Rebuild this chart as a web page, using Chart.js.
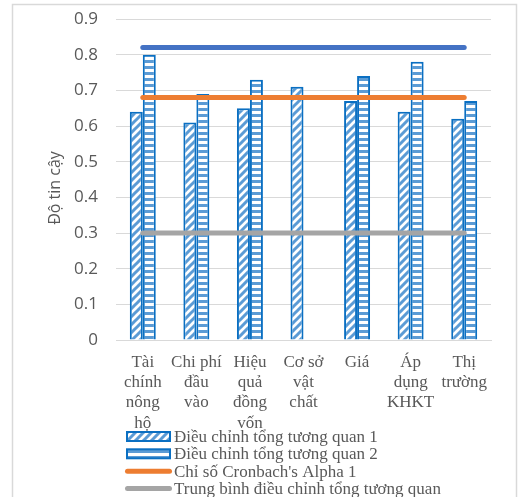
<!DOCTYPE html>
<html>
<head>
<meta charset="utf-8">
<script src="https://cdn.jsdelivr.net/npm/chart.js@4/dist/chart.umd.min.js"></script>
<style>
  html, body { margin: 0; padding: 0; background: #ffffff; overflow: hidden; }
  #wrap { width: 518px; height: 497px; }
</style>
</head>
<body>
<div id="wrap"><canvas id="chart" width="518" height="497"></canvas></div>
<script>
// Categories (multi-line labels)
const categories = [
  ["Tài", "chính", "nông", "hộ"],
  ["Chi phí", "đầu", "vào"],
  ["Hiệu", "quả", "đồng", "vốn"],
  ["Cơ sở", "vật", "chất"],
  ["Giá"],
  ["Áp", "dụng", "KHKT"],
  ["Thị", "trường"]
];

// Series values
const correlation1 = [0.64, 0.61, 0.65, 0.71, 0.67, 0.64, 0.62];
const correlation2 = [0.80, 0.69, 0.73, null, 0.74, 0.78, 0.67];
const alpha2       = [0.82, 0.82, 0.82, 0.82, 0.82, 0.82, 0.82];
const alpha1       = [0.68, 0.68, 0.68, 0.68, 0.68, 0.68, 0.68];
const meanCorr     = [0.30, 0.30, 0.30, 0.30, 0.30, 0.30, 0.30];

// Axis ticks
const yTicks = [0, 0.1, 0.2, 0.3, 0.4, 0.5, 0.6, 0.7, 0.8, 0.9];
const yTitle = 'Độ tin cậy';

const seriesNames = [
  "Điều chỉnh tổng tương quan 1",
  "Điều chỉnh tổng tương quan 2",
  "Chỉ số Cronbach's Alpha 1",
  "Trung bình điều chỉnh tổng tương quan",
  "Chỉ số Cronbach's Alpha 2"
];

const BAR_EDGE = '#0a6fc2';
const STRIPE = '#5b9bd5';

// Wide upward diagonal hatch
function diagonalPattern() {
  const c = document.createElement('canvas');
  c.width = 8; c.height = 8;
  const g = c.getContext('2d');
  g.fillStyle = '#ffffff';
  g.fillRect(0, 0, 8, 8);
  g.strokeStyle = STRIPE;
  g.lineWidth = 3;
  g.beginPath();
  g.moveTo(-2, 10); g.lineTo(10, -2);
  g.moveTo(-6, 6); g.lineTo(6, -6);
  g.moveTo(2, 14); g.lineTo(14, 2);
  g.stroke();
  return g.createPattern(c, 'repeat');
}

// Horizontal stripe hatch
function horizontalPattern() {
  const c = document.createElement('canvas');
  c.width = 6; c.height = 6;
  const g = c.getContext('2d');
  g.fillStyle = '#ffffff';
  g.fillRect(0, 0, 6, 6);
  g.fillStyle = STRIPE;
  g.fillRect(0, 0, 6, 3);
  return g.createPattern(c, 'repeat');
}

const patDiag = diagonalPattern();
const patHoriz = horizontalPattern();

// Page frame, axis title and legend drawn on the canvas
const framePlugin = {
  id: 'frame',
  beforeDraw(chart) {
    const ctx = chart.ctx;
    ctx.save();
    ctx.fillStyle = '#ffffff';
    ctx.fillRect(0, 0, chart.width, chart.height);
    ctx.strokeStyle = '#d9d9d9';
    ctx.lineWidth = 1.5;
    ctx.strokeRect(12.5, 4.5, 504, 500);
    ctx.restore();
  },
  afterDraw(chart) {
    const ctx = chart.ctx;
    ctx.save();
    // vertical axis title
    ctx.translate(55, 188);
    ctx.rotate(-Math.PI / 2);
    ctx.font = '16px "Open Sans", sans-serif';
    ctx.fillStyle = '#595959';
    ctx.textAlign = 'center';
    ctx.textBaseline = 'middle';
    ctx.fillText(yTitle, 0, 0);
    ctx.restore();

    ctx.save();
    ctx.font = '17px "Liberation Serif", "Times New Roman", serif';
    ctx.textBaseline = 'middle';
    ctx.textAlign = 'left';
    const rows = [436.5, 453.8, 471.3, 488.6];
    const boxX = 127, boxW = 43, boxH = 9, textX = 174;
    // hatched entries
    [[patDiag, 0], [patHoriz, 1]].forEach(([pat, i]) => {
      const y = rows[i] - boxH / 2;
      ctx.fillStyle = pat;
      ctx.fillRect(boxX, y, boxW, boxH);
      ctx.strokeStyle = BAR_EDGE;
      ctx.lineWidth = 2;
      ctx.strokeRect(boxX, y, boxW, boxH);
    });
    // line entries
    [['#ed7d31', 2], ['#a5a5a5', 3]].forEach(([col, i]) => {
      ctx.strokeStyle = col;
      ctx.lineWidth = 5;
      ctx.lineCap = 'round';
      ctx.beginPath();
      ctx.moveTo(127.5, rows[i]);
      ctx.lineTo(169.5, rows[i]);
      ctx.stroke();
    });
    ctx.fillStyle = '#595959';
    for (let i = 0; i < 4; i++) {
      ctx.fillText(seriesNames[i], textX, rows[i] + 1);
    }
    ctx.restore();
  }
};

new Chart(document.getElementById('chart'), {
  type: 'bar',
  data: {
    labels: categories,
    datasets: [
      {
        label: seriesNames[0], data: correlation1,
        backgroundColor: patDiag, borderColor: BAR_EDGE, borderWidth: 2,
        order: 2
      },
      {
        label: seriesNames[1], data: correlation2,
        backgroundColor: patHoriz, borderColor: BAR_EDGE, borderWidth: 2,
        order: 2
      },
      {
        type: 'line', label: seriesNames[4], data: alpha2,
        borderColor: '#4472c4', borderWidth: 5, borderCapStyle: 'round',
        pointRadius: 0, fill: false, order: 1
      },
      {
        type: 'line', label: seriesNames[2], data: alpha1,
        borderColor: '#ed7d31', borderWidth: 5, borderCapStyle: 'round',
        pointRadius: 0, fill: false, order: 1
      },
      {
        type: 'line', label: seriesNames[3], data: meanCorr,
        borderColor: '#a5a5a5', borderWidth: 5, borderCapStyle: 'round',
        pointRadius: 0, fill: false, order: 1
      }
    ]
  },
  options: {
    responsive: false,
    animation: false,
    events: [],
    categoryPercentage: 0.485,
    barPercentage: 1.0,
    layout: { padding: { left: 12, top: 19, right: 27, bottom: 0 } },
    plugins: {
      legend: { display: false },
      tooltip: { enabled: false }
    },
    scales: {
      x: {
        grid: { display: false, drawTicks: false },
        border: { display: true, color: '#d9d9d9', width: 1 },
        ticks: {
          color: '#595959',
          font: { family: '"Liberation Serif", "Times New Roman", serif', size: 17, lineHeight: 1.2 },
          maxRotation: 0, minRotation: 0, autoSkip: false, padding: 12
        },
        afterFit(scale) {
          scale.height = 157;
          scale.paddingLeft = 0;
          scale.paddingRight = 0;
        }
      },
      y: {
        min: 0, max: 0.9,
        afterBuildTicks(scale) { scale.ticks = yTicks.map(v => ({ value: v })); },
        grid: { color: '#d9d9d9', lineWidth: 1, drawTicks: false },
        border: { display: false },
        ticks: {
          color: '#595959',
          font: { family: '"Open Sans", sans-serif', size: 17 },
          padding: 18,
          callback: v => String(+Number(v).toFixed(1))
        },
        afterFit(scale) {
          scale.width = 104;
          scale.paddingTop = 0;
          scale.paddingBottom = 0;
        }
      }
    }
  },
  plugins: [framePlugin]
});
</script>
</body>
</html>
